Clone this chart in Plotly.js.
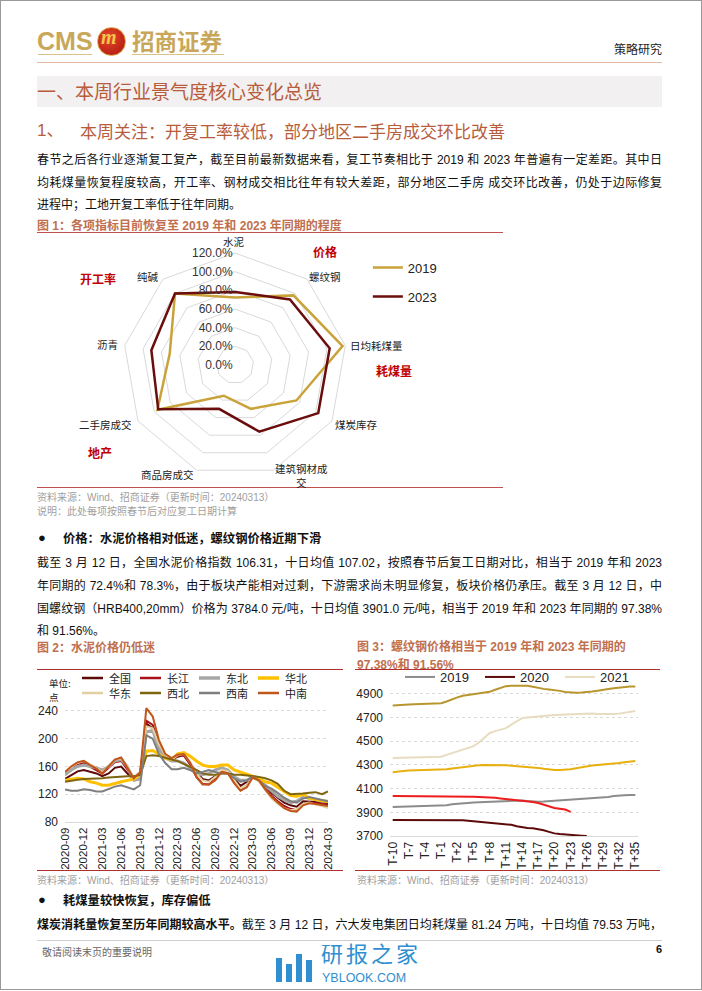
<!DOCTYPE html>
<html><head><meta charset="utf-8">
<script src="https://cdn.plot.ly/plotly-3.0.1.min.js"></script>
<style>
html,body{margin:0;padding:0;background:#fff;}
body{width:702px;height:991px;position:relative;overflow:hidden;font-family:"Liberation Sans","Noto Sans CJK SC",sans-serif;color:#111;}
.abs{position:absolute;white-space:nowrap;}
.para{position:absolute;left:37px;width:625px;font-size:12px;line-height:16px;text-align:justify;text-align-last:justify;white-space:nowrap;}
.last{text-align-last:left;}
.hl{position:absolute;height:1px;}
.src{position:absolute;font-size:10px;color:#a0a0a0;white-space:nowrap;}
.ftitle{position:absolute;font-size:12px;font-weight:bold;color:#c0704f;white-space:nowrap;}
</style></head>
<body>
<div class="abs" style="left:0;top:0;width:700px;height:988px;border:1px solid #999;"></div>
<!-- header -->
<div class="abs" style="left:37px;top:27px;font-size:25px;line-height:28px;font-weight:bold;color:#c9a75a;font-family:'Liberation Sans';">CMS</div>
<div class="abs" style="left:97px;top:27px;width:27px;height:27px;border-radius:50%;background:radial-gradient(circle at 40% 35%,#e8452a,#a8150c);border:1px solid #d9a640;"></div>
<div class="abs" style="left:101px;top:26px;font-size:20px;font-style:italic;font-weight:bold;color:#f3c64a;font-family:'Liberation Serif';">m</div>
<div class="abs" style="left:132px;top:24px;font-size:22.5px;line-height:32px;font-weight:bold;color:#c9a75a;font-family:'Noto Sans CJK SC';">招商证券</div>
<div class="hl" style="left:38px;top:54px;width:54px;background:#d8c089;"></div>
<div class="hl" style="left:132px;top:54px;width:92px;background:#d8c089;"></div>
<div class="abs" style="left:614px;top:40px;font-size:12px;color:#222;font-family:'Noto Sans CJK SC';">策略研究</div>
<div class="hl" style="left:37px;top:62px;width:625px;background:#e9b9a6;"></div>
<!-- section title -->
<div class="abs" style="left:37px;top:76px;width:625px;height:31px;background:#f2f0f0;"></div>
<div class="abs" style="left:37px;top:77px;font-size:19px;line-height:28px;color:#b85c3c;font-family:'Noto Sans CJK SC';">一、本周行业景气度核心变化总览</div>
<div class="abs" style="left:37px;top:119px;font-size:17px;line-height:24px;color:#b85c3c;font-family:'Liberation Sans','Noto Sans CJK SC';">1、</div>
<div class="abs" style="left:80px;top:119px;font-size:17px;line-height:24px;color:#b85c3c;font-family:'Noto Sans CJK SC';">本周关注：开复工率较低，部分地区二手房成交环比改善</div>
<div class="para" style="top:152px;">春节之后各行业逐渐复工复产，截至目前最新数据来看，复工节奏相比于 2019 和 2023 年普遍有一定差距。其中日</div>
<div class="para" style="top:175px;">均耗煤量恢复程度较高，开工率、钢材成交相比往年有较大差距，部分地区二手房 成交环比改善，仍处于边际修复</div>
<div class="para last" style="top:197px;">进程中；工地开复工率低于往年同期。</div>
<div class="ftitle" style="left:37px;top:216px;">图 1：各项指标目前恢复至 2019 年和 2023 年同期的程度</div>
<div class="hl" style="left:37px;top:232px;width:466px;background:#c0504d;"></div>
<div class="hl" style="left:37px;top:487px;width:466px;background:#c0504d;"></div>
<div class="src" style="left:37px;top:489px;">资料来源：Wind、招商证券（更新时间：20240313）</div>
<div class="src" style="left:37px;top:503px;">说明：此处每项按照春节后对应复工日期计算</div>
<div id="radar" class="abs" style="left:37px;top:233px;width:466px;height:262px;"></div>
<div class="abs" style="left:38px;top:529px;font-size:13px;line-height:18px;font-weight:bold;">●</div>
<div class="abs" style="left:63px;top:529px;font-size:12.3px;line-height:18px;font-weight:bold;font-family:'Noto Sans CJK SC';">价格：水泥价格相对低迷，螺纹钢价格近期下滑</div>
<div class="para" style="top:555px;">截至 3 月 12 日，全国水泥价格指数 106.31，十日均值 107.02，按照春节后复工日期对比，相当于 2019 年和 2023</div>
<div class="para" style="top:578px;">年同期的 72.4%和 78.3%，由于板块产能相对过剩，下游需求尚未明显修复，板块价格仍承压。截至 3 月 12 日，中</div>
<div class="para" style="top:601px;">国螺纹钢（HRB400,20mm）价格为 3784.0 元/吨，十日均值 3901.0 元/吨，相当于 2019 年和 2023 年同期的 97.38%</div>
<div class="para last" style="top:623px;">和 91.56%。</div>
<div class="ftitle" style="left:37px;top:638px;">图 2：水泥价格仍低迷</div>
<div class="ftitle" style="left:357px;top:637px;">图 3：螺纹钢价格相当于 2019 年和 2023 年同期的</div>
<div class="ftitle" style="left:357px;top:655px;">97.38%和 91.56%</div>
<div class="hl" style="left:37px;top:669px;width:306px;background:#b03030;"></div>
<div class="hl" style="left:355px;top:669px;width:305px;background:#b03030;"></div>
<div id="cement" class="abs" style="left:37px;top:670px;width:306px;height:200px;"></div>
<div id="rebar" class="abs" style="left:355px;top:670px;width:305px;height:200px;"></div>
<div class="hl" style="left:37px;top:870px;width:306px;background:#b03030;"></div>
<div class="hl" style="left:355px;top:870px;width:305px;background:#b03030;"></div>
<div class="src" style="left:37px;top:872px;">资料来源：Wind、招商证券（更新时间：20240313）</div>
<div class="src" style="left:357px;top:872px;">资料来源：Wind、招商证券（更新时间：20240313）</div>
<div class="abs" style="left:38px;top:891px;font-size:13px;line-height:18px;font-weight:bold;">●</div>
<div class="abs" style="left:63px;top:891px;font-size:12.3px;line-height:18px;font-weight:bold;font-family:'Noto Sans CJK SC';">耗煤量较快恢复，库存偏低</div>
<div class="para" style="top:917px;"><b>煤炭消耗量恢复至历年同期较高水平。</b>截至 3 月 12 日，六大发电集团日均耗煤量 81.24 万吨，十日均值 79.53 万吨，</div>
<div class="hl" style="left:37px;top:940px;width:625px;background:#cfcfcf;"></div>
<div class="src" style="left:42px;top:944px;color:#666;">敬请阅读末页的重要说明</div>
<div class="abs" style="left:656px;top:943px;font-size:11px;font-weight:bold;">6</div>
<!-- watermark -->
<div class="abs" style="left:276px;top:958px;width:6px;height:24px;background:#2f8fd0;"></div>
<div class="abs" style="left:286px;top:964px;width:6px;height:18px;background:#2f8fd0;"></div>
<div class="abs" style="left:296px;top:954px;width:6px;height:28px;background:#2f8fd0;"></div>
<div class="abs" style="left:306px;top:960px;width:6px;height:22px;background:#2f8fd0;"></div>
<div class="abs" style="left:321px;top:939px;font-size:22px;line-height:26px;letter-spacing:3px;color:#2f8fd0;font-family:'Noto Sans CJK SC';">研报之家</div>
<div class="abs" style="left:322px;top:971px;font-size:12.5px;line-height:14px;color:#2f8fd0;font-family:'Liberation Sans';">YBLOOK.COM</div>
<script>
// ---------- Figure 1: radar ----------
const radarCategories = ['水泥','螺纹钢','日均耗煤量','煤炭库存','建筑钢材成<br>交','商品房成交','二手房成交','沥青','纯碱'];
const radar2019 = [0.724, 0.9738, 1.17, 0.76, 0.50, 0.35, 0.96, 0.71, 1.00];
const radar2023 = [0.783, 0.9156, 1.03, 1.03, 0.76, 0.50, 0.95, 0.91, 1.00];
const radarGroupLabels = ['价格','开工率','耗煤量','地产'];

// ---------- Figure 2: cement price index ----------
const cementMonths = ['2020-09','2020-10','2020-11','2020-12','2021-01','2021-02','2021-03','2021-04','2021-05','2021-06','2021-07','2021-08','2021-09','2021-10','2021-11','2021-12','2022-01','2022-02','2022-03','2022-04','2022-05','2022-06','2022-07','2022-08','2022-09','2022-10','2022-11','2022-12','2023-01','2023-02','2023-03','2023-04','2023-05','2023-06','2023-07','2023-08','2023-09','2023-10','2023-11','2023-12','2024-01','2024-02','2024-03'];
const cementTicks = ['2020-09','2020-12','2021-03','2021-06','2021-09','2021-12','2022-03','2022-06','2022-09','2022-12','2023-03','2023-06','2023-09','2023-12','2024-03'];
const cementNational = [142,148,153,155,153,150,146,150,158,160,150,142,150,222,215,190,176,170,174,176,165,152,142,140,146,152,153,142,132,138,146,143,132,122,115,108,104,102,110,110,109,108,107];
const cementYangtze  = [148,155,162,165,160,155,150,158,166,168,155,143,150,226,220,192,176,170,175,176,163,145,135,134,142,153,152,138,126,133,145,140,128,118,110,103,99,97,106,108,107,106,105];
const cementNortheast= [148,155,160,162,160,158,155,160,168,170,160,140,142,210,212,185,172,168,168,165,158,150,148,150,155,158,155,145,140,140,145,140,133,125,117,112,108,110,116,114,112,110,110];
const cementNorth    = [140,142,143,142,138,136,133,133,136,138,140,142,148,182,183,177,172,170,178,180,175,168,162,160,160,162,162,155,152,148,146,143,138,136,130,124,118,117,120,114,112,110,109];
const cementEast     = [152,160,166,168,163,158,152,160,170,172,160,143,150,218,215,192,176,170,176,178,166,150,140,138,145,155,153,140,128,133,144,138,126,114,106,100,97,98,106,108,105,103,100];
const cementNorthwest= [138,140,141,142,142,143,143,144,145,145,146,146,148,175,176,175,172,170,168,164,160,155,150,148,148,150,150,148,148,147,146,145,143,140,135,125,120,120,121,122,123,120,124];
const cementSouthwest= [127,125,125,127,126,124,124,128,131,133,130,127,133,205,200,178,165,156,156,158,155,150,152,155,152,150,150,143,138,140,145,140,132,128,122,115,110,108,114,116,114,112,110];
const cementCentral  = [152,160,166,168,162,157,150,160,170,173,158,143,152,244,232,198,178,172,177,178,166,145,134,134,140,152,150,136,125,130,144,140,127,116,108,100,96,95,104,107,106,104,103];
const cementNames = ['全国','长江','东北','华北','华东','西北','西南','中南'];

// ---------- Figure 3: rebar price ----------
const rebarDays = ['T-10','T-9','T-8','T-7','T-6','T-5','T-4','T-3','T-2','T-1','T','T+1','T+2','T+3','T+4','T+5','T+6','T+7','T+8','T+9','T+10','T+11','T+12','T+13','T+14','T+15','T+16','T+17','T+18','T+19','T+20','T+21','T+22','T+23','T+24','T+25','T+26','T+27','T+28','T+29','T+30','T+31','T+32','T+33','T+34','T+35'];
const rebarTicks = ['T-10','T-7','T-4','T-1','T+2','T+5','T+8','T+11','T+14','T+17','T+20','T+23','T+26','T+29','T+32','T+35'];
const rebar2019 = [3945,3946,3947,3948,3949,3950,3951,3952,3953,3955,3960,3968,3973,3977,3980,3983,3985,3987,3989,3992,3995,3997,3999,4000,4000,3996,3992,3990,3992,3995,3997,4002,4006,4010,4013,4016,4018,4020,4022,4024,4030,4038,4043,4045,4046,4046];
const rebar2020 = [3835,3835,3835,3835,3835,3835,3835,3835,3835,3835,3835,3835,3835,3833,3828,3824,3820,3816,3813,3811,3808,3804,3795,3783,3773,3768,3765,3759,3748,3735,3722,3716,3714,3713,3708,3703,3700,null,null,null,null,null,null,null,null,null];
const rebar2021 = [4358,4359,4360,4361,4362,4363,4364,4366,4368,4370,4385,4400,4415,4430,4443,4458,4490,4530,4570,4585,4598,4610,4640,4670,4695,4700,4703,4706,4712,4718,4722,4724,4726,4728,4731,4734,4737,4734,4730,4728,4729,4730,4733,4740,4748,4756];
const rebar2022 = [4801,4806,4809,4811,4812,4813,4814,4815,4817,4820,4835,4855,4870,4884,4890,4895,4903,4910,4917,4935,4952,4965,4968,4970,4970,4968,4960,4950,4942,4937,4933,4925,4915,4910,4910,4912,4914,4920,4926,4931,4940,4948,4954,4959,4961,4962];
const rebar2023 = [4238,4245,4249,4252,4253,4254,4255,4256,4257,4258,4263,4270,4276,4283,4289,4294,4297,4299,4300,4299,4298,4297,4294,4291,4289,4285,4280,4275,4268,4262,4258,4258,4259,4263,4272,4281,4289,4295,4300,4303,4308,4313,4317,4323,4329,4334];
const rebar2024 = [4038,4038,4038,4038,4038,4038,4038,4038,4038,4038,4038,4038,4038,4036,4034,4032,4030,4029,4027,4022,4017,4013,4008,4004,4001,3994,3987,3979,3964,3948,3937,3930,3923,3903,null,null,null,null,null,null,null,null,null,null,null,null];

const LAT = 'Liberation Sans, Noto Sans CJK SC, sans-serif';
const CJK = 'Noto Sans CJK SC, Liberation Sans, sans-serif';
const cfg = {staticPlot:true, displayModeBar:false};

// radar
(function(){
  const close = a => a.concat([a[0]]);
  const th = close(radarCategories);
  const traces = [
    {type:'scatterpolar', r:close(radar2019), theta:th, mode:'lines', name:'2019', line:{color:'#c9a23a', width:2.5}, legendgroup:'a'},
    {type:'scatterpolar', r:close(radar2023), theta:th, mode:'lines', name:'2023', line:{color:'#6b0d0d', width:2.5}, legendgroup:'b'}
  ];
  const W=466,H=262;
  const px=(x)=>x/W, py=(y)=>1-y/H;
  const catPos = [[197,8],[288,43],[339,112],[319,191],[264,242],[130,241],[68,191],[70,111],[111,43]];
  const grpPos = [[288,18],[61,45],[357,137],[63,219]];
  const ann = [];
  catPos.forEach((p,i)=>ann.push({text:radarCategories[i], x:px(p[0]), y:py(p[1]), xref:'paper', yref:'paper', xanchor:'center', yanchor:'middle',
      showarrow:false, font:{family:CJK, size:10.5, color:'#222'}}));
  grpPos.forEach((p,i)=>ann.push({text:radarGroupLabels[i], x:px(p[0]), y:py(p[1]), xref:'paper', yref:'paper', xanchor:'center', yanchor:'middle',
      showarrow:false, font:{family:CJK, size:12, color:'#c00000', weight:'bold'}}));
  Plotly.newPlot('radar', traces, {
    width:W, height:H, margin:{l:0,r:0,t:0,b:0,autoexpand:false}, paper_bgcolor:'rgba(0,0,0,0)',
    showlegend:true,
    legend:{x:0.71, y:0.925, xanchor:'left', yanchor:'top', font:{family:LAT,size:13,color:'#222'}, tracegroupgap:9, bgcolor:'rgba(0,0,0,0)'},
    polar:{
      domain:{x:[86/W,310/W], y:[1-244/H,1-20/H]},
      gridshape:'linear', bgcolor:'rgba(0,0,0,0)',
      radialaxis:{range:[0,1.2], tickvals:[0,0.2,0.4,0.6,0.8,1.0,1.2], tickformat:'.1%', angle:90, tickangle:90,
        side:'counterclockwise', showline:false, ticks:'', gridcolor:'#d9d9d9', gridwidth:1,
        tickfont:{family:LAT,size:12,color:'#333'}},
      angularaxis:{rotation:90, direction:'clockwise', showgrid:false, showline:true, linecolor:'#d9d9d9', linewidth:1,
        ticks:'', showticklabels:false}
    },
    annotations:ann
  }, cfg);
})();

// cement
(function(){
  const ys=[cementNational,cementYangtze,cementNortheast,cementNorth,cementEast,cementNorthwest,cementSouthwest,cementCentral];
  const colors=['#5c0a0a','#a8121c','#a6a6a6','#ffc000','#e3cfa0','#7f6510','#7f7f7f','#c0561a'];
  const widths=[2,2,3,3,2,2,2,2];
  const traces=ys.map((y,i)=>({type:'scatter',mode:'lines',x:cementMonths,y:y,name:cementNames[i],line:{color:colors[i],width:widths[i]}}));
  // legend key, 4 entries per row, laid out in page pixels and converted to paper coords
  const PL=65, PW=263, PB=822, PH=117;
  const fx=p=>(p-PL)/PW, fy=p=>(PB-p)/PH;
  const colX=[82,140,199,258], rowY=[678,693];
  const shapes=[], ann=[];
  cementNames.forEach((n,i)=>{
    const c=i%4, r=Math.floor(i/4);
    shapes.push({type:'line', xref:'paper', yref:'paper', x0:fx(colX[c]), x1:fx(colX[c]+21), y0:fy(rowY[r]), y1:fy(rowY[r]),
      line:{color:colors[i], width:widths[i]+0.5}});
    ann.push({text:n, x:fx(colX[c]+25), y:fy(rowY[r]), xref:'paper', yref:'paper', xanchor:'left', yanchor:'middle', showarrow:false,
      font:{family:CJK,size:11,color:'#222'}});
  });
  ann.push({text:'单位:', x:fx(47), y:fy(683), xref:'paper', yref:'paper', xanchor:'left', yanchor:'middle', showarrow:false, font:{family:CJK,size:9.5,color:'#222'}});
  ann.push({text:'点', x:fx(47), y:fy(697), xref:'paper', yref:'paper', xanchor:'left', yanchor:'middle', showarrow:false, font:{family:CJK,size:9.5,color:'#222'}});
  Plotly.newPlot('cement', traces, {
    width:306, height:200, margin:{l:28,r:15,t:35,b:48,autoexpand:false},
    paper_bgcolor:'rgba(0,0,0,0)', plot_bgcolor:'rgba(0,0,0,0)',
    xaxis:{type:'date', range:['2020-09-01','2024-03-01'], tickvals:cementTicks, ticktext:cementTicks, tickangle:-90,
      showgrid:false, showline:true, linecolor:'#d9d9d9', ticks:'', tickfont:{family:LAT,size:11.5,color:'#222'}},
    yaxis:{range:[80,248.6], tickvals:[80,120,160,200,240], showgrid:true, gridcolor:'#d9d9d9', griddash:'dot',
      zeroline:false, showline:false, ticks:'', ticklabelstandoff:6, tickfont:{family:LAT,size:12,color:'#222'}},
    showlegend:false,
    shapes:shapes,
    annotations:ann
  }, cfg);
})();

// rebar
(function(){
  const series=[['2019',rebar2019,'#8c8c8c',true],['2020',rebar2020,'#5c0a0a',true],['2021',rebar2021,'#e8dcc0',true],
                ['2022',rebar2022,'#b8962e',false],['2023',rebar2023,'#e8b00f',false],['2024',rebar2024,'#ee1c1c',false]];
  const traces=series.map(s=>({type:'scatter',mode:'lines',x:rebarDays,y:s[1],name:s[0],line:{color:s[2],width:2},showlegend:s[3],connectgaps:false}));
  Plotly.newPlot('rebar', traces, {
    width:305, height:200, margin:{l:35.3,r:22.3,t:12,b:34,autoexpand:false},
    paper_bgcolor:'rgba(0,0,0,0)', plot_bgcolor:'rgba(0,0,0,0)',
    xaxis:{type:'category', range:[-0.5,45.5], tickvals:rebarTicks, ticktext:rebarTicks, tickangle:-90,
      showgrid:false, showline:true, linecolor:'#d9d9d9', ticks:'', tickfont:{family:LAT,size:12,color:'#222'}},
    yaxis:{range:[3700,5000], tickvals:[3700,3900,4100,4300,4500,4700,4900], showgrid:true, gridcolor:'#d9d9d9', griddash:'dot',
      zeroline:false, showline:false, ticks:'', ticklabelstandoff:6, tickfont:{family:LAT,size:12,color:'#222'}},
    showlegend:true,
    legend:{orientation:'h', x:0.1475, y:0.965, xref:'container', yref:'container', xanchor:'left', yanchor:'middle', entrywidth:35,
      font:{family:LAT,size:13,color:'#222'}, bgcolor:'rgba(0,0,0,0)'}
  }, cfg);
})();
</script>
</body></html>
